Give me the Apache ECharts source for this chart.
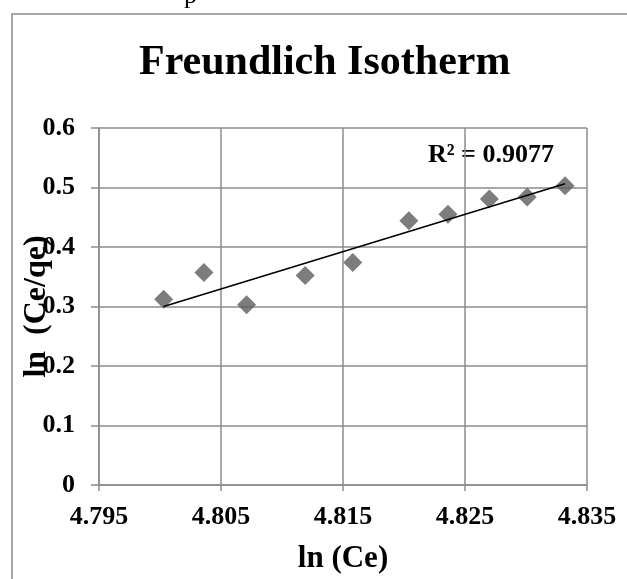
<!DOCTYPE html>
<html>
<head>
<meta charset="utf-8">
<script src="https://cdn.jsdelivr.net/npm/echarts@6/dist/echarts.min.js"></script>
<style>
  html, body { margin: 0; padding: 0; background: #fff; }
  #chart { width: 627px; height: 579px; }
</style>
</head>
<body>
<div id="chart"></div>
<script>
// ln(Ce) and ln(Ce/qe)
const lnCe = [4.8003, 4.8036, 4.8071, 4.8119, 4.8158, 4.8204, 4.8236, 4.8270, 4.8301, 4.8332];
const lnCeQe = [0.312, 0.357, 0.303, 0.352, 0.374, 0.444, 0.455, 0.4805, 0.484, 0.503];
const r2Label = 'R² = 0.9077';

const serif = "'Liberation Serif', 'Times New Roman', serif";

// least squares trendline over the data range
function linearFit(xs, ys) {
  const n = xs.length;
  const mx = xs.reduce((a, b) => a + b, 0) / n;
  const my = ys.reduce((a, b) => a + b, 0) / n;
  let sxy = 0, sxx = 0;
  xs.forEach((x, i) => {
    sxy += (x - mx) * (ys[i] - my);
    sxx += (x - mx) * (x - mx);
  });
  const slope = sxy / sxx;
  return { slope, intercept: my - slope * mx };
}

const fit = linearFit(lnCe, lnCeQe);
const xMin = Math.min(...lnCe);
const xMax = Math.max(...lnCe);
const trend = [
  [xMin, fit.intercept + fit.slope * xMin],
  [xMax, fit.intercept + fit.slope * xMax],
];

const chart = echarts.init(document.getElementById('chart'));
const gridColor = '#8c8c8c';

const option = {
  animation: false,
  backgroundColor: '#fff',
  title: {
    text: 'Freundlich Isotherm',
    left: 134,
    top: 37,
    textStyle: { fontFamily: serif, fontWeight: 'bold', fontSize: 42, color: '#000' },
  },
  graphic: [
    {
      type: 'rect',
      shape: { x: 12, y: 14, width: 700, height: 700 },
      style: { fill: 'none', stroke: '#8a8a8a', lineWidth: 1.5 },
      silent: true,
    },
    {
      type: 'text',
      left: 184,
      top: -17,
      style: { text: 'p', font: '26px ' + serif, fill: '#000' },
      silent: true,
    },
    {
      type: 'text',
      left: 428,
      top: 142,
      style: { text: r2Label, font: 'bold 26px ' + serif, fill: '#000' },
      silent: true,
    },
  ],
  grid: {
    left: 99,
    right: 40,
    top: 128,
    bottom: 91,
  },
  xAxis: {
    type: 'value',
    min: 4.795,
    max: 4.835,
    interval: 0.01,
    name: 'ln (Ce)',
    nameLocation: 'middle',
    nameGap: 58,
    nameMoveOverlap: false,
    nameTextStyle: { fontFamily: serif, fontWeight: 'bold', fontSize: 31, color: '#000' },
    axisLine: { lineStyle: { color: gridColor, width: 1.5 } },
    axisTick: { show: true, length: 6, lineStyle: { color: gridColor, width: 1.5 } },
    splitLine: { show: true, lineStyle: { color: gridColor, width: 1.5 } },
    axisLabel: {
      margin: 19,
      fontFamily: serif,
      fontWeight: 'bold',
      fontSize: 26,
      color: '#000',
      formatter: (v) => v.toFixed(3),
    },
  },
  yAxis: {
    type: 'value',
    min: 0,
    max: 0.6,
    interval: 0.1,
    name: 'ln  (Ce/qe)',
    nameLocation: 'middle',
    nameGap: 46,
    nameMoveOverlap: false,
    nameTextStyle: { fontFamily: serif, fontWeight: 'bold', fontSize: 32, color: '#000' },
    axisLine: { show: true, lineStyle: { color: gridColor, width: 1.5 } },
    axisTick: { show: true, length: 8, lineStyle: { color: gridColor, width: 1.5 } },
    splitLine: { show: true, lineStyle: { color: gridColor, width: 1.5 } },
    axisLabel: {
      margin: 24,
      fontFamily: serif,
      fontWeight: 'bold',
      fontSize: 26,
      color: '#000',
      formatter: (v) => (v === 0 ? '0' : v.toFixed(1)),
    },
  },
  series: [
    {
      name: 'ln (Ce/qe)',
      type: 'scatter',
      symbol: 'diamond',
      symbolSize: 19,
      itemStyle: { color: '#5c5c5c' },
      data: lnCe.map((x, i) => [x, lnCeQe[i]]),
      z: 2,
    },
    {
      name: 'Linear',
      type: 'line',
      showSymbol: false,
      lineStyle: { color: '#000', width: 1.6 },
      data: trend,
      z: 3,
    },
  ],
};

chart.setOption(option);
</script>
</body>
</html>
